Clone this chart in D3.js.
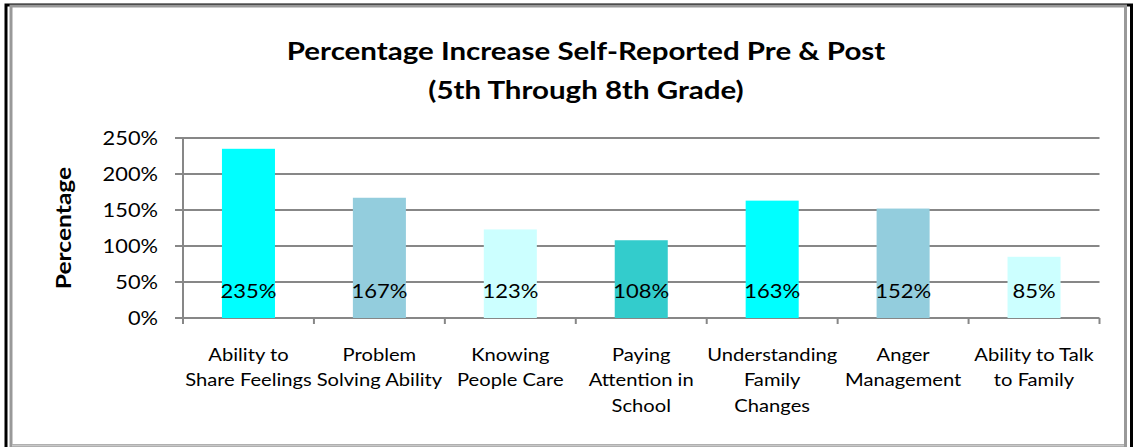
<!DOCTYPE html>
<html><head><meta charset="utf-8">
<script src="https://cdn.jsdelivr.net/npm/d3@7/dist/d3.min.js"></script>
<style>
html,body{margin:0;padding:0;background:#fff;}
svg{display:block;font-family:Lato, "Open Sans", sans-serif;}
</style></head>
<body>
<svg id="chart" width="1135" height="447"></svg>
<script>
const categories = [
  "Ability to\nShare Feelings",
  "Problem\nSolving Ability",
  "Knowing\nPeople Care",
  "Paying\nAttention in\nSchool",
  "Understanding\nFamily\nChanges",
  "Anger\nManagement",
  "Ability to Talk\nto Family"
];
const values = [235, 167, 123, 108, 163, 152, 85];
const barColors = ["#00FFFF", "#93CDDD", "#CCFFFF", "#33CCCC", "#00FFFF", "#93CDDD", "#CCFFFF"];
const yTicks = [0, 50, 100, 150, 200, 250];
const titleLines = ["Percentage Increase Self-Reported Pre & Post", "(5th Through 8th Grade)"];
const yTitle = "Percentage";

(function () {
const svg = d3.select("#chart");

// outer frame
svg.append("rect").attr("x", 6).attr("y", 5).attr("width", 1125.5).attr("height", 460)
  .attr("fill", "none").attr("stroke", "#000").attr("stroke-width", 3);
svg.append("rect").attr("x", 11).attr("y", 6).attr("width", 1114.5).attr("height", 439.5)
  .attr("fill", "#fff").attr("stroke", "#999").attr("stroke-width", 3);
svg.append("line").attr("x1", 12).attr("x2", 1124).attr("y1", 445.5).attr("y2", 445.5)
  .attr("stroke", "#c8c8c8").attr("stroke-width", 2);

const pL = 183, pR = 1099.5, pT = 138, pB = 318;
const x = d3.scaleBand().domain(categories).range([pL, pR]).padding(0);
const y = d3.scaleLinear().domain([0, 250]).range([pB, pT]);
const cx = c => x(c) + x.bandwidth() / 2;

// gridlines
svg.append("g").selectAll("line").data(yTicks).join("line")
  .attr("x1", pL - 8).attr("x2", pR)
  .attr("y1", d => y(d)).attr("y2", d => y(d))
  .attr("stroke", "#878787").attr("stroke-width", 2);

// y axis line
svg.append("line").attr("x1", pL).attr("x2", pL).attr("y1", pT).attr("y2", pB + 5)
  .attr("stroke", "#878787").attr("stroke-width", 2);

// x ticks
svg.append("g").selectAll("line").data(d3.range(categories.length + 1)).join("line")
  .attr("x1", i => pL + i * x.step()).attr("x2", i => pL + i * x.step())
  .attr("y1", pB).attr("y2", pB + 6)
  .attr("stroke", "#878787").attr("stroke-width", 2);

// y tick labels
svg.append("g").selectAll("text").data(yTicks).join("text")
  .attr("transform", d => `translate(158,${y(d)}) scale(1.09,1)`)
  .attr("dy", "0.36em")
  .attr("text-anchor", "end").attr("font-size", 20).attr("fill", "#000")
  .text(d => d + "%");

// bars
const bw = x.bandwidth() * 0.405;
svg.append("g").selectAll("rect").data(values).join("rect")
  .attr("x", (d, i) => cx(categories[i]) - bw / 2)
  .attr("width", bw)
  .attr("y", d => y(d)).attr("height", d => y(0) - y(d))
  .attr("fill", (d, i) => barColors[i]);

// bar labels (inside base)
svg.append("g").selectAll("text").data(values).join("text")
  .attr("transform", (d, i) => `translate(${cx(categories[i])},${y(0) - 20}) scale(1.1,1)`)
  .attr("text-anchor", "middle").attr("font-size", 20).attr("fill", "#000")
  .text(d => d + "%");

// category labels
svg.append("g").selectAll("text").data(categories).join("text")
  .attr("transform", d => `translate(${cx(d)},361) scale(1.12,1)`)
  .attr("text-anchor", "middle").attr("font-size", 18).attr("fill", "#000")
  .each(function(d) {
    const t = d3.select(this);
    d.split("\n").forEach((line, i) => {
      t.append("tspan").attr("x", 0).attr("dy", i === 0 ? 0 : 25.5).text(line);
    });
  });

// title
svg.append("g").selectAll("text").data(titleLines).join("text")
  .attr("transform", (d, i) => `translate(586,${60 + i * 39}) scale(1.18,1)`)
  .attr("text-anchor", "middle").attr("font-size", 25).attr("font-weight", "bold").attr("fill", "#000")
  .text(d => d);

// y title
svg.append("text").attr("transform", "translate(71,228) rotate(-90) scale(1.17,1)")
  .attr("text-anchor", "middle").attr("font-size", 21).attr("font-weight", "bold").attr("fill", "#000")
  .text(yTitle);
})();
</script>
</body></html>
